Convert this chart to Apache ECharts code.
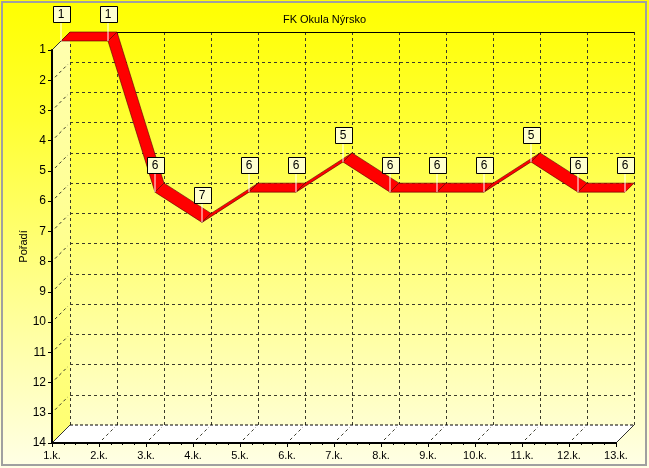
<!DOCTYPE html>
<html>
<head>
<meta charset="utf-8">
<script src="https://cdn.jsdelivr.net/npm/echarts@6/dist/echarts.min.js"></script>
<style>
html,body{margin:0;padding:0;background:#fff;}
#main{width:649px;height:468px;background:linear-gradient(to bottom,#ffff00 0%,#ffff30 25%,#ffff88 60%,#ffffe6 100%);}
</style>
</head>
<body>
<div id="main"></div>
<script>
// ---- data ----
const categories = ['1.k.','2.k.','3.k.','4.k.','5.k.','6.k.','7.k.','8.k.','9.k.','10.k.','11.k.','12.k.','13.k.'];
const ranks = [1,1,6,7,6,6,5,6,6,6,5,6,6];
const rankMin = 1;
const rankMax = 14;
const title = 'FK Okula Nýrsko';
const yName = 'Pořadí';

// ---- style constants ----
const DEPTH = 18;      // 3D depth offset in px
const HALF = 9;        // ribbon starts halfway back
const FONT = 'Liberation Sans, Arial, sans-serif';
const GRIDC = '#3a3a2a';

const xMax = categories.length - 1;
const off = (q, d) => [q[0] + d, q[1] - d];

const segments = ranks.slice(0, -1).map((v, i) => [i, v, i + 1, ranks[i + 1]]);
const points = ranks.map((v, i) => [i, v]);

const chart = echarts.init(document.getElementById('main'), null, {renderer: 'canvas'});

const option = {
  animation: false,
  backgroundColor: 'transparent',
  title: {
    text: title, left: 'center', top: 9,
    textStyle: {fontFamily: FONT, fontSize: 11, fontWeight: 'normal', color: '#000'}
  },
  graphic: {
    elements: [{
      type: 'rect', z: 100,
      shape: {x: 2, y: 2, width: 644, height: 463},
      style: {fill: null, stroke: '#a0a0a0', lineWidth: 2}
    }]
  },
  grid: [
    {left: 52, top: 50, width: 564, height: 393},
    {left: 52 + DEPTH, top: 50 - DEPTH, width: 564, height: 393}
  ],
  xAxis: [
    {
      gridIndex: 0, type: 'value', min: 0, max: xMax, interval: 1, z: 5,
      axisLine: {show: true, lineStyle: {color: '#000', width: 2}},
      axisTick: {show: true, length: 4, lineStyle: {color: '#000'}},
      minorTick: {show: true, splitNumber: 4, length: 2, lineStyle: {color: '#000'}},
      splitLine: {show: false},
      axisLabel: {
        formatter: v => categories[v] || '', color: '#000',
        fontFamily: FONT, fontSize: 11, margin: 7
      }
    },
    {
      gridIndex: 1, type: 'value', min: 0, max: xMax, interval: 1, position: 'top',
      axisLine: {show: true, onZero: false, lineStyle: {color: '#000', width: 1}},
      axisTick: {show: false}, axisLabel: {show: false},
      splitLine: {show: true, lineStyle: {color: GRIDC, type: [3, 3], width: 1}}
    }
  ],
  yAxis: [
    {
      gridIndex: 0, type: 'value', inverse: true, min: rankMin, max: rankMax, interval: 1, z: 5,
      name: yName, nameLocation: 'middle', nameRotate: 90, nameGap: 23, nameMoveOverlap: false,
      nameTextStyle: {fontFamily: FONT, fontSize: 11, color: '#000'},
      axisLine: {show: true, lineStyle: {color: '#000', width: 2}},
      axisTick: {show: true, length: 4, lineStyle: {color: '#000'}},
      splitLine: {show: false},
      axisLabel: {color: '#000', fontFamily: FONT, fontSize: 12, margin: 6}
    },
    {
      gridIndex: 1, type: 'value', inverse: true, min: rankMin, max: rankMax, interval: 1,
      axisLine: {show: false}, axisTick: {show: false}, axisLabel: {show: false},
      splitLine: {show: true, lineStyle: {color: GRIDC, type: [3, 3], width: 1}}
    }
  ],
  series: [
    {
      // walls (left wall + floor)
      type: 'custom', xAxisIndex: 0, yAxisIndex: 0, z: 1, silent: true,
      data: [[0, rankMin]],
      encode: {x: 0, y: 1},
      renderItem: (params, api) => {
        const p = (x, y) => api.coord([x, y]);
        const tl = p(0, rankMin), bl = p(0, rankMax), br = p(xMax, rankMax);
        const children = [];
        children.push({
          type: 'polygon',
          shape: {points: [tl, bl, off(bl, DEPTH), off(tl, DEPTH)]},
          style: {fill: new echarts.graphic.LinearGradient(0, 0, 0, 1, [
            {offset: 0, color: '#ffffb0'}, {offset: 1, color: '#ffff70'}])}
        });
        children.push({
          type: 'polygon',
          shape: {points: [bl, br, off(br, DEPTH), off(bl, DEPTH)]},
          style: {fill: '#ffffff'}
        });
        for (let r = rankMin + 1; r < rankMax; r++) {
          const a = p(0, r);
          children.push({type: 'line', shape: {x1: a[0] + 3, y1: a[1] - 3, x2: a[0] + DEPTH - 2, y2: a[1] - DEPTH + 2},
            style: {stroke: GRIDC, lineDash: [3, 3], lineWidth: 1}});
        }
        for (let c = 1; c < xMax; c++) {
          const a = p(c, rankMax);
          children.push({type: 'line', shape: {x1: a[0] + 3, y1: a[1] - 3, x2: a[0] + DEPTH - 2, y2: a[1] - DEPTH + 2},
            style: {stroke: GRIDC, lineDash: [3, 3], lineWidth: 1}});
        }
        [tl, bl, br].forEach(q => {
          const e = off(q, DEPTH);
          children.push({type: 'line', shape: {x1: q[0], y1: q[1], x2: e[0], y2: e[1]},
            style: {stroke: '#333', lineWidth: 1}});
        });
        const bb = off(bl, DEPTH), be = off(br, DEPTH);
        children.push({type: 'line', shape: {x1: bb[0], y1: bb[1], x2: be[0], y2: be[1]},
          style: {stroke: '#000', lineDash: [3, 2], lineWidth: 1}});
        return {type: 'group', children};
      }
    },
    {
      // 3D ribbon line
      type: 'custom', xAxisIndex: 0, yAxisIndex: 0, z: 3, silent: true,
      data: segments,
      encode: {x: [0, 2], y: [1, 3]},
      renderItem: (params, api) => {
        const a = api.coord([api.value(0), api.value(1)]);
        const b = api.coord([api.value(2), api.value(3)]);
        const A = off(a, HALF), B = off(b, HALF), C = off(b, DEPTH), D = off(a, DEPTH);
        return {
          type: 'polygon',
          shape: {points: [A, B, C, D]},
          style: {fill: '#ff0000', stroke: '#500000', lineWidth: 0.6}
        };
      }
    },
    {
      // point marks (labels)
      type: 'custom', xAxisIndex: 0, yAxisIndex: 0, z: 6, silent: true,
      data: points,
      encode: {x: 0, y: 1},
      renderItem: (params, api) => {
        const a = off(api.coord([api.value(0), api.value(1)]), HALF);
        const cx = a[0], cy = a[1] - 27;
        const w = 17, h = 16;
        return {
          type: 'group',
          children: [
            {type: 'line', shape: {x1: cx, y1: a[1], x2: cx, y2: cy + h / 2},
              style: {stroke: '#ffffff', lineWidth: 1}},
            {type: 'rect', shape: {x: Math.round(cx - w / 2) + 0.5, y: Math.round(cy - h / 2) + 0.5, width: w, height: h},
              style: {fill: '#ffffd0', stroke: '#000', lineWidth: 1}},
            {type: 'text', x: cx, y: cy + 0.5,
              style: {text: String(api.value(1)), fill: '#000', font: '12px ' + FONT,
                align: 'center', verticalAlign: 'middle'}}
          ]
        };
      }
    }
  ]
};
chart.setOption(option);
</script>
</body>
</html>
